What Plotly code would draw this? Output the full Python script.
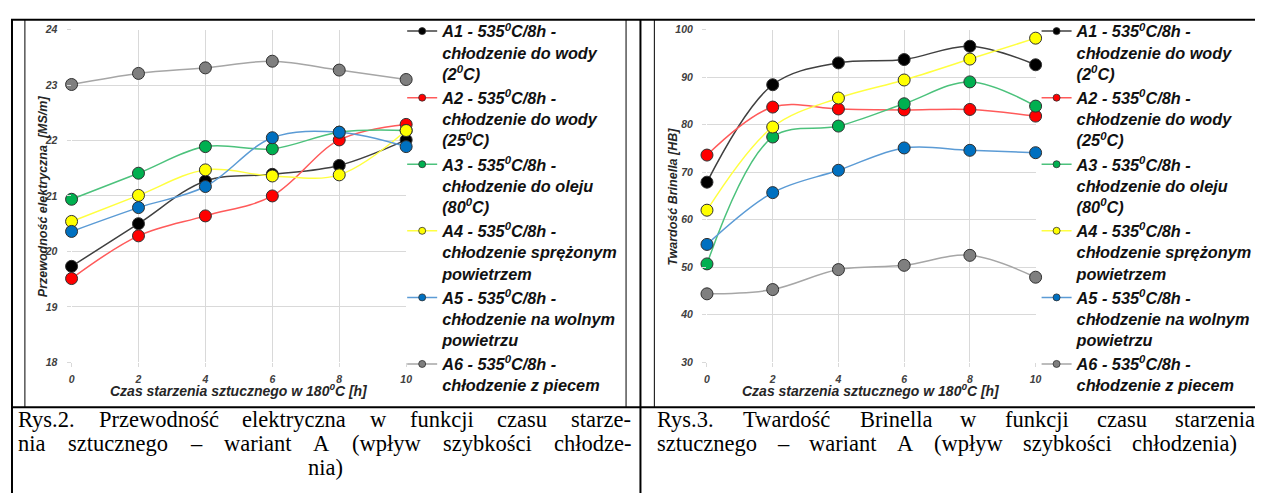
import plotly.graph_objects as go

# ---------------- data ----------------
time_h = [0, 2, 4, 6, 8, 10]

series_names = [
    "A1 - 535<sup>0</sup>C/8h -<br>chłodzenie do wody<br>(2<sup>0</sup>C)",
    "A2 - 535<sup>0</sup>C/8h -<br>chłodzenie do wody<br>(25<sup>0</sup>C)",
    "A3 - 535<sup>0</sup>C/8h -<br>chłodzenie do oleju<br>(80<sup>0</sup>C)",
    "A4 - 535<sup>0</sup>C/8h -<br>chłodzenie sprężonym<br>powietrzem",
    "A5 - 535<sup>0</sup>C/8h -<br>chłodzenie na wolnym<br>powietrzu",
    "A6 - 535<sup>0</sup>C/8h -<br>chłodzenie z piecem",
]

# electrical conductivity [MS/m]
cond_A1 = [19.73, 20.50, 21.27, 21.39, 21.55, 22.01]
cond_A2 = [19.51, 20.28, 20.64, 21.00, 22.01, 22.29]
cond_A3 = [20.94, 21.41, 21.89, 21.85, 22.15, 22.18]
cond_A4 = [20.54, 21.01, 21.47, 21.36, 21.38, 22.18]
cond_A5 = [20.36, 20.79, 21.17, 22.05, 22.15, 21.89]
cond_A6 = [23.01, 23.21, 23.31, 23.43, 23.27, 23.10]

# Brinell hardness [HB]
hb_A1 = [67.9, 88.4, 93.0, 93.7, 96.5, 92.6]
hb_A2 = [73.6, 83.7, 83.3, 83.1, 83.2, 81.8]
hb_A3 = [50.7, 77.4, 79.7, 84.4, 89.0, 83.9]
hb_A4 = [62.0, 79.5, 85.6, 89.4, 93.8, 98.2]
hb_A5 = [54.8, 65.7, 70.4, 75.1, 74.6, 74.1]
hb_A6 = [44.4, 45.3, 49.5, 50.4, 52.5, 47.9]

cond_ticks = [18, 19, 20, 21, 22, 23, 24]
hb_ticks = [30, 40, 50, 60, 70, 80, 90, 100]
x_ticks = [0, 2, 4, 6, 8, 10]

x_title = "Czas starzenia sztucznego w 180<sup>0</sup>C [h]"
y_title_left = "Przewodność elektryczna  [MS/m]"
y_title_right = "Twardość Brinella [HB]"
caption_left = [
    "Rys.2. Przewodność elektryczna w funkcji czasu starze-",
    "nia sztucznego – wariant A (wpływ szybkości chłodze-",
    "nia)",
]
caption_right = [
    "Rys.3. Twardość Brinella w funkcji czasu starzenia",
    "sztucznego – wariant A (wpływ szybkości chłodzenia)",
]

# ---------------- styles ----------------
marker_colors = ["#000000", "#ff0000", "#00b050", "#ffff00", "#0070c0", "#7f7f7f"]
line_colors = ["#404040", "#ff5a5a", "#4cc27c", "#ffff40", "#5b9bd5", "#a6a6a6"]

# page is offset by the 8px body margin; figure covers the rest of the window
OFF = 8
W, H = 1263 - OFF, 499 - OFF


def px(x):
    return (x - OFF) / W


def py(y):
    return 1 - (y - OFF) / H


FONT = "Liberation Sans"
cond_data = [cond_A1, cond_A2, cond_A3, cond_A4, cond_A5, cond_A6]
hb_data = [hb_A1, hb_A2, hb_A3, hb_A4, hb_A5, hb_A6]

fig = go.Figure()

for i in range(6):
    for data, xa, ya, lg in ((cond_data[i], "x", "y", "legend"), (hb_data[i], "x2", "y2", "legend2")):
        fig.add_trace(go.Scatter(
            x=time_h, y=data, xaxis=xa, yaxis=ya, mode="lines+markers",
            line=dict(color=line_colors[i], width=1.5, shape="spline", smoothing=1.0),
            marker=dict(color=marker_colors[i], size=12, line=dict(color="#303030", width=1)),
            cliponaxis=False, showlegend=False, name=series_names[i],
        ))
        # legend-only entry with the small legend symbol
        fig.add_trace(go.Scatter(
            x=[None], y=[None], xaxis=xa, yaxis=ya, mode="lines+markers",
            line=dict(color=line_colors[i], width=1.5),
            marker=dict(color=marker_colors[i], size=7, line=dict(color="#303030", width=0.8)),
            name=series_names[i], legend=lg, showlegend=True,
        ))

tickfont = dict(family=FONT, size=10.5, color="#404040", weight="bold", style="italic")
axis_common = dict(showgrid=True, gridcolor="#d9d9d9", gridwidth=1, zeroline=False,
                   showline=False, ticks="outside", ticklen=4, tickcolor="#d9d9d9",
                   tickfont=tickfont)

ydom = [py(365), py(24)]
legend_font = dict(family=FONT, size=16.3, color="#111111", weight="bold", style="italic")
fig.update_layout(
    width=W, height=H, margin=dict(l=0, r=0, t=0, b=0),
    paper_bgcolor="white", plot_bgcolor="white",
    xaxis=dict(domain=[px(69), px(406)], range=[0, 10], tickvals=x_ticks, anchor="y",
               ticklabelstandoff=3, **axis_common),
    yaxis=dict(domain=ydom, range=[18, 24], tickvals=cond_ticks, anchor="x",
               ticklabelstandoff=7, **axis_common),
    xaxis2=dict(domain=[px(709), px(1040)], range=[0, 10], tickvals=x_ticks, anchor="y2",
                ticklabelstandoff=3, **axis_common),
    yaxis2=dict(domain=ydom, range=[30, 100], tickvals=hb_ticks, anchor="x2",
                ticklabelstandoff=7, **axis_common),
    legend=dict(x=px(402), y=1, xanchor="left", yanchor="top", valign="top",
                bgcolor="rgba(0,0,0,0)", borderwidth=0, tracegroupgap=0, font=legend_font),
    legend2=dict(x=px(1041), y=1, xanchor="left", yanchor="top", valign="top",
                 bgcolor="rgba(0,0,0,0)", borderwidth=0, tracegroupgap=0, font=legend_font),
)

xtitle_font = dict(family=FONT, size=14, color="#262626", weight="bold", style="italic")
ytitle_font = dict(family=FONT, size=12.5, color="#262626", weight="bold", style="italic")
ann = []
ann.append(dict(text=x_title, x=px(237.5), y=py(393), xref="paper", yref="paper",
                showarrow=False, font=xtitle_font, xanchor="center", yanchor="middle"))
ann.append(dict(text=x_title, x=px(874.5), y=py(393), xref="paper", yref="paper",
                showarrow=False, font=xtitle_font, xanchor="center", yanchor="middle"))
ann.append(dict(text=y_title_left, x=px(41), y=py(195), xref="paper", yref="paper", textangle=-90,
                showarrow=False, font=ytitle_font, xanchor="center", yanchor="middle"))
ann.append(dict(text=y_title_right, x=px(675), y=py(195), xref="paper", yref="paper", textangle=-90,
                showarrow=False, font=ytitle_font, xanchor="center", yanchor="middle"))

# ---- captions (justified like the reference, using Times metrics) ----
CAP_SIZE = 22.5
cap_font = dict(family="Liberation Serif", size=CAP_SIZE, color="#000000")
times_w = {
    "a": 444, "b": 500, "c": 444, "d": 500, "e": 444, "f": 333, "g": 500, "h": 500,
    "i": 278, "j": 278, "k": 500, "l": 278, "m": 778, "n": 500, "o": 500, "p": 500,
    "r": 333, "s": 389, "t": 278, "u": 500, "w": 722, "y": 500, "z": 444, "A": 722,
    "B": 667, "P": 556, "R": 667, "T": 611, "2": 500, "3": 500, ".": 250, "-": 333,
    "(": 333, ")": 333, " ": 250, "–": 500, "ł": 278, "ś": 389, "ć": 444,
}


def word_w(word):
    return sum(times_w.get(ch, 500) for ch in word) / 1000 * CAP_SIZE


def justified(line, x0, x1, y):
    words = line.split(" ")
    total = sum(word_w(w) for w in words)
    gap = (x1 - x0 - total) / (len(words) - 1)
    x = x0
    for w in words:
        ann.append(dict(text=w, x=px(x), y=py(y), xref="paper", yref="paper",
                        showarrow=False, font=cap_font, xanchor="left", yanchor="middle"))
        x += word_w(w) + gap


cap_y = [424, 448.5, 473]
justified(caption_left[0], 13, 630, cap_y[0])
justified(caption_left[1], 13, 630, cap_y[1])
ann.append(dict(text=caption_left[2], x=px(325), y=py(cap_y[2]), xref="paper", yref="paper",
                showarrow=False, font=cap_font, xanchor="center", yanchor="middle"))
justified(caption_right[0], 657, 1258, cap_y[0])
justified(caption_right[1], 657, 1240, cap_y[1])
fig.update_layout(annotations=ann)

# table / frame borders
shapes = []


def hline(y, x0, x1, w):
    shapes.append(dict(type="line", xref="paper", yref="paper", x0=px(x0), x1=px(x1),
                       y0=py(y), y1=py(y), line=dict(color="black", width=w)))


def vline(x, y0, y1, w):
    shapes.append(dict(type="line", xref="paper", yref="paper", x0=px(x), x1=px(x),
                       y0=py(y0), y1=py(y1), line=dict(color="black", width=w)))


hline(14, 8, 1263, 2)
hline(411, 8, 1263, 2)
vline(9, 13, 499, 2)
vline(642, 13, 499, 2)
vline(22, 14, 411, 1)
vline(627.5, 14, 411, 1)
vline(656, 14, 411, 1)
vline(1261.5, 14, 411, 1)
fig.update_layout(shapes=shapes)

fig.write_html("out.html")
